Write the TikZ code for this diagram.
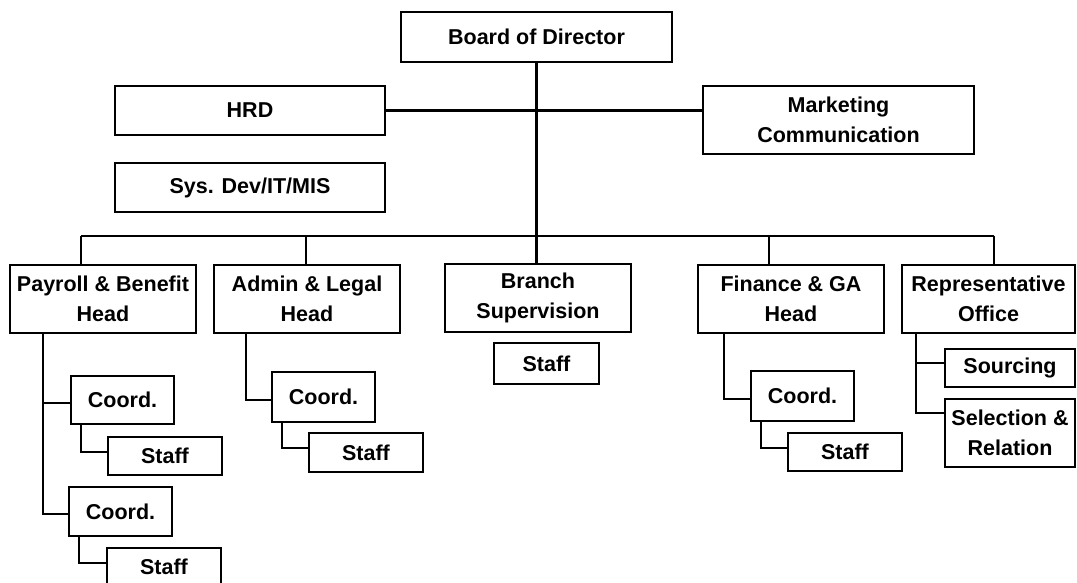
\documentclass[tikz,border=0pt]{standalone}
\usepackage{fontspec}
\setmainfont{Liberation Sans}
\begin{document}
\begin{tikzpicture}[x=1pt,y=-1pt,
  box/.style={draw=black, line width=1.9pt, fill=white, inner sep=0pt, align=center,
    font=\fontsize{21.5}{30}\selectfont\bfseries},
  link/.style={draw=black, line width=2.1pt}]
\useasboundingbox (0,0) rectangle (1077,583);
\clip (0,0) rectangle (1077,583);
% top level
\node[box, minimum width=271pt, minimum height=50pt] (board) at (536.5,37) {Board of Director};
\node[box, minimum width=270pt, minimum height=49pt] (hrd) at (250,110.5) {HRD};
\node[box, minimum width=270pt, minimum height=49pt] (sys) at (250,187.5) {Sys. Dev/IT/MIS};
\node[box, minimum width=271pt, minimum height=68pt] (mkt) at (838.5,120) {Marketing\\Communication};
% heads
\node[box, minimum width=186pt, minimum height=68pt] (pay) at (103,299) {Payroll \& Benefit\\Head};
\node[box, minimum width=186pt, minimum height=68pt] (adm) at (307,299) {Admin \& Legal\\Head};
\node[box, minimum width=186pt, minimum height=68pt] (bra) at (538,298) {Branch\\Supervision};
\node[box, minimum width=186pt, minimum height=68pt] (fin) at (791,299) {Finance \& GA\\Head};
\node[box, minimum width=173pt, minimum height=68pt] (rep) at (988.5,299) {Representative\\Office};
% sub boxes
\node[box, minimum width=105pt, minimum height=41pt] (brastaff) at (546.5,363.5) {Staff};
\node[box, minimum width=103pt, minimum height=48pt] (pc1) at (122.5,400) {Coord.};
\node[box, minimum width=114pt, minimum height=38pt] (ps1) at (165,456) {Staff};
\node[box, minimum width=103pt, minimum height=49pt] (pc2) at (120.5,511.5) {Coord.};
\node[box, minimum width=114pt, minimum height=38pt] (ps2) at (164,567) {Staff};
\node[box, minimum width=103pt, minimum height=50pt] (ac) at (323.5,397) {Coord.};
\node[box, minimum width=114pt, minimum height=39pt] (as) at (366,452.5) {Staff};
\node[box, minimum width=103pt, minimum height=50pt] (fc) at (802.5,396) {Coord.};
\node[box, minimum width=114pt, minimum height=38pt] (fs) at (845,452) {Staff};
\node[box, minimum width=130pt, minimum height=38pt] (src) at (1010,368) {Sourcing};
\node[box, minimum width=130pt, minimum height=68pt] (sel) at (1010,433) {Selection \&\\Relation};
% bus coordinates
\coordinate (d1) at (81,236);
\coordinate (d2) at (306,236);
\coordinate (d4) at (769,236);
\coordinate (d5) at (994,236);
\coordinate (pv) at (43,0);
\coordinate (av) at (246,0);
\coordinate (fv) at (724,0);
\coordinate (rv) at (916,0);
% connectors
\draw[link] (board.south) -- (board.south |- bra.north);
\draw[link] (hrd.east) -- (mkt.west |- hrd.east);
\draw[link] (d1) -- (d5);
\draw[link] (d1) -- (d1 |- pay.north);
\draw[link] (d2) -- (d2 |- adm.north);
\draw[link] (d4) -- (d4 |- fin.north);
\draw[link] (d5) -- (d5 |- rep.north);
% payroll subtree
\draw[link] (pv |- pay.south) |- ([yshift=-2.5pt]pc2.west);
\draw[link] (pv |- pc1.west) ++(0,3) -- ([yshift=-3pt]pc1.west);
\draw[link] ([xshift=-41.5pt]pc1.south) |- ([yshift=4pt]ps1.west);
\draw[link] ([xshift=-41.5pt]pc2.south) |- ([yshift=4pt]ps2.west);
% admin subtree
\draw[link] (av |- adm.south) |- ([yshift=-3pt]ac.west);
\draw[link] ([xshift=-41.5pt]ac.south) |- ([yshift=4.5pt]as.west);
% finance subtree
\draw[link] (fv |- fin.south) |- ([yshift=-3pt]fc.west);
\draw[link] ([xshift=-41.5pt]fc.south) |- ([yshift=4pt]fs.west);
% representative subtree
\draw[link] (rv |- rep.south) |- ([yshift=20pt]sel.west);
\draw[link] (rv |- src.west) ++(0,-5) -- ([yshift=5pt]src.west);
\end{tikzpicture}
\end{document}
